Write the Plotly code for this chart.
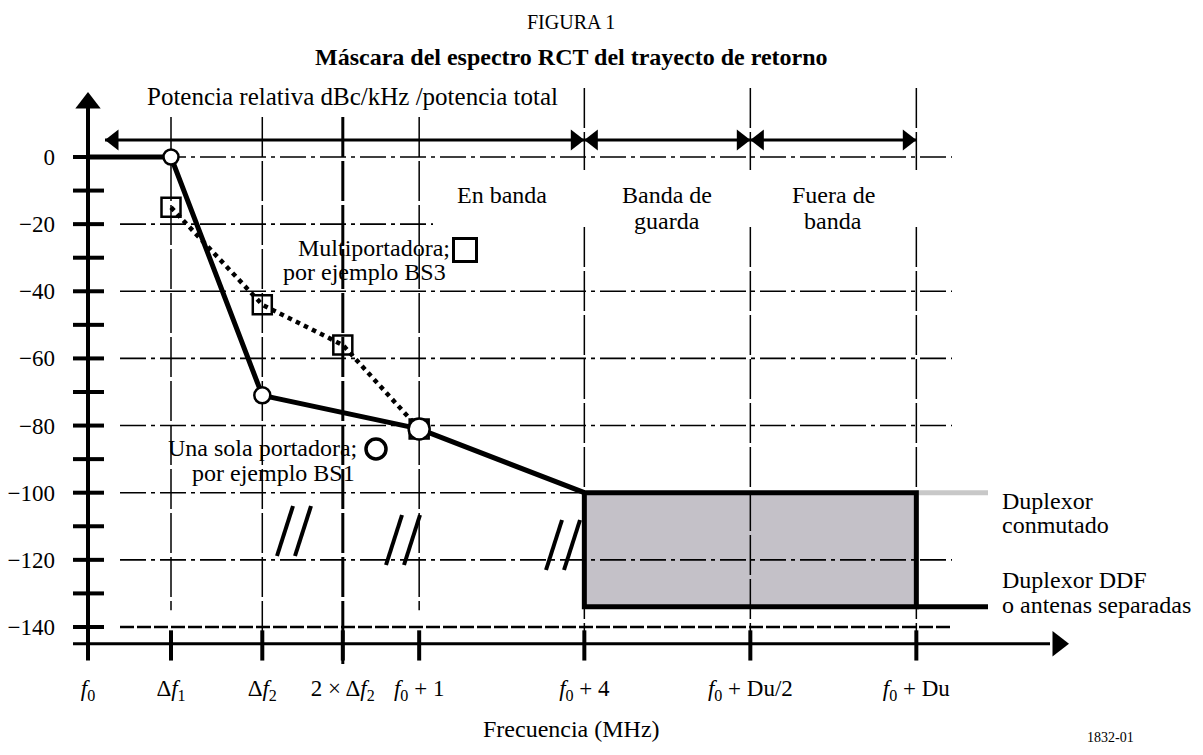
import plotly.graph_objects as go

# frequency axis (schematic, not to scale)
freq_labels = [
    "<i>f</i><sub>0</sub>",
    "Δ<i>f</i><sub>1</sub>",
    "Δ<i>f</i><sub>2</sub>",
    "2 × Δ<i>f</i><sub>2</sub>",
    "<i>f</i><sub>0</sub> + 1",
    "<i>f</i><sub>0</sub> + 4",
    "<i>f</i><sub>0</sub> + Du/2",
    "<i>f</i><sub>0</sub> + Du",
]
freq_pos = [0, 1.0, 2.1, 3.07, 3.99, 5.98, 7.98, 9.98]

y_ticks = [0, -20, -40, -60, -80, -100, -120, -140]

# single carrier (BS1): f0, Δf1, Δf2, f0+1, f0+4
bs1_idx = [0, 1, 2, 4, 5]
bs1_db = [0, 0, -71, -81, -100]

# multicarrier (BS3): Δf1, Δf2, 2Δf2, f0+1
bs3_idx = [1, 2, 3, 4]
bs3_db = [-15, -44, -56, -81]

duplex_switched = -100   # duplexor conmutado
duplex_fdd = -134        # duplexor DDF / antenas separadas

band_names = [["En banda"], ["Banda de", "guarda"], ["Fuera de", "banda"]]

FONT = "Liberation Serif"
PX_X = 83.0    # pixels per x unit
PX_Y = 3.357   # pixels per dB
AXIS_Y = -145
# page body has an 8px margin; plot area sits at screen x 62..1080, y 85..672
W, H = 1187, 739
ML, MT = 62 - 8, 85 - 8
PW, PH = 1018, 587


def X(px):
    return (px - 88) / PX_X


def Y(py):
    return -(py - 157) / PX_Y


bs1_x = [freq_pos[i] for i in bs1_idx]
bs3_x = [freq_pos[i] for i in bs3_idx]
f4, fdu2, fdu = freq_pos[5], freq_pos[6], freq_pos[7]

fig = go.Figure()


def seg(xs, ys, width=3, color="black", dash=None):
    fig.add_trace(go.Scatter(x=xs, y=ys, mode="lines", hoverinfo="skip",
                             line=dict(color=color, width=width, dash=dash)))


def mark(x, y, symbol, size, fill="black", lw=0):
    fig.add_trace(go.Scatter(x=x, y=y, mode="markers", hoverinfo="skip",
                             marker=dict(symbol=symbol, size=size, color=fill, opacity=1,
                                         line=dict(color="black", width=lw))))


shapes = []
# shaded mask region
shapes.append(dict(type="rect", xref="x", yref="y", layer="below",
                   x0=f4, x1=fdu, y0=duplex_fdd, y1=duplex_switched,
                   fillcolor="#c4c1c8", line=dict(width=0)))

# horizontal dash-dot grid
gx0, gx1 = X(120), X(952)
for v in y_ticks:
    x1 = X(433) if v == -20 else gx1
    if v == -140:
        shapes.append(dict(type="line", xref="x", yref="y", layer="below", x0=gx0, x1=x1, y0=v, y1=v,
                           line=dict(color="black", width=2.5, dash="14px,3px")))
    else:
        shapes.append(dict(type="line", xref="x", yref="y", layer="below", x0=gx0, x1=x1, y0=v, y1=v,
                           line=dict(color="black", width=1.6, dash="26px,5px,4px,5px")))

# vertical dashed grid
for i, p in enumerate(freq_pos[1:], start=1):
    if i <= 4:
        bottom = {1: -135, 2: AXIS_Y, 3: -151, 4: -135}[i]
        w = 3 if i == 3 else 1.5
        shapes.append(dict(type="line", xref="x", yref="y", layer="below", x0=p, x1=p, y0=Y(117), y1=bottom,
                           line=dict(color="black", width=w, dash="40px,4px")))
    else:
        for y0, y1 in [(Y(88), Y(170)), (Y(227), AXIS_Y)]:
            shapes.append(dict(type="line", xref="x", yref="y", layer="below", x0=p, x1=p, y0=y0, y1=y1,
                               line=dict(color="black", width=1.5, dash="40px,4px")))

# y axis with minor ticks and arrow
seg([0, 0], [-150, Y(104)], width=4)
mark([0], [Y(103)], "triangle-up", 22)
for v in range(-140, 10, 10):
    seg([X(73), X(104)], [v, v], width=4)

# x axis with ticks and arrow
seg([X(73), X(1050)], [AXIS_Y, AXIS_Y], width=3)
mark([X(1058)], [AXIS_Y], "triangle-right", 22)
for p in freq_pos[1:]:
    seg([p, p], [-141, -150], width=4)

# band arrows across the top
ARR_Y = Y(140)
tip = 9 / PX_X
starts = [X(105), f4, fdu2]
ends = [f4, fdu2, fdu]
seg([starts[0], ends[-1]], [ARR_Y, ARR_Y], width=3)
for a, b in zip(starts, ends):
    mark([b - tip], [ARR_Y], "triangle-right", 18)
    mark([a + tip], [ARR_Y], "triangle-left", 18)

# duplexor lines and mask box
seg([fdu, X(988)], [duplex_switched, duplex_switched], width=5, color="#c8c8c8")
seg([fdu, X(988)], [duplex_fdd, duplex_fdd], width=5)
seg([f4, fdu, fdu, f4, f4], [duplex_switched, duplex_switched, duplex_fdd, duplex_fdd, duplex_switched], width=5)

# break marks "//"
brk_x, brk_y = [], []
for cx, cy in [(X(294), Y(531)), (X(403), Y(540)), (X(563), Y(545))]:
    for off in (-9, 9):
        brk_x += [cx + (off + 8) / PX_X, cx + (off - 8) / PX_X, None]
        brk_y += [cy + 25 / PX_Y, cy - 25 / PX_Y, None]
seg(brk_x, brk_y, width=4)

# multicarrier (dotted) and single carrier (solid)
mark(bs3_x, bs3_db, "square-open", 19, lw=2.5)
seg(bs3_x, bs3_db, width=4.5, dash="dot")
seg(bs1_x, bs1_db, width=5)
mark(bs1_x[1:4], bs1_db[1:4], "circle", [15, 16, 21], fill="white", lw=2.5)

# legend symbols next to labels
mark([X(465)], [Y(250)], "square-open", 23, lw=3)
mark([X(376)], [Y(449)], "circle-open", 20, lw=3.5)

ann = []


def text(x, y, s, size=24, xanchor="center", xref="x", yref="y", bold=False):
    ann.append(dict(x=x, y=y, xref=xref, yref=yref, text=f"<b>{s}</b>" if bold else s, showarrow=False,
                    xanchor=xanchor, yanchor="middle",
                    font=dict(family=FONT, size=size, color="black")))


def py_paper(py):
    return -(py - 85 - PH) / PH


text(0.5, py_paper(22), "FIGURA 1", size=20, xref="paper", yref="paper")
text(0.5, py_paper(57), "Máscara del espectro RCT del trayecto de retorno", size=24, xref="paper", yref="paper", bold=True)
text(X(145), Y(96), "Potencia relativa dBc/kHz /potencia total", size=25, xanchor="left")

band_x = [(freq_pos[4] + f4) / 2, (f4 + fdu2) / 2, (fdu2 + fdu) / 2]
for bx, lines in zip(band_x, band_names):
    for k, line in enumerate(lines):
        text(bx, Y(195 + 26 * k), line)

text(X(452), Y(248), "Multiportadora;", xanchor="right")
text(X(448), Y(272), "por ejemplo BS3", xanchor="right")
text(X(359), Y(448), "Una sola portadora;", xanchor="right")
text(X(357), Y(473), "por ejemplo BS1", xanchor="right")
text(X(1000), Y(501), "Duplexor", xanchor="left")
text(X(1000), Y(525), "conmutado", xanchor="left")
text(X(1000), Y(580), "Duplexor DDF", xanchor="left")
text(X(1000), Y(605), "o antenas separadas", xanchor="left")
text(0.5, py_paper(729), "Frecuencia (MHz)", xref="paper", yref="paper")
text((1110 - 62) / PW, py_paper(737), "1832-01", size=14, xref="paper", yref="paper")

fig.update_layout(
    width=W, height=H,
    margin=dict(l=ML, r=W - ML - PW, t=MT, b=H - MT - PH),
    plot_bgcolor="white", paper_bgcolor="white",
    showlegend=False,
    shapes=shapes, annotations=ann,
    font=dict(family=FONT, size=24, color="black"),
    xaxis=dict(range=[X(62), X(1080)], tickvals=freq_pos, ticktext=freq_labels, automargin=False,
               showgrid=False, zeroline=False, showline=False, ticks="", ticklabelstandoff=0,
               tickfont=dict(family=FONT, size=23)),
    yaxis=dict(range=[Y(672), Y(85)], tickvals=y_ticks, automargin=False,
               ticktext=[str(v).replace("-", "−") for v in y_ticks],
               showgrid=False, zeroline=False, showline=False, ticks="", ticklabelstandoff=6,
               tickfont=dict(family=FONT, size=23)),
)

fig.write_html("out.html")
